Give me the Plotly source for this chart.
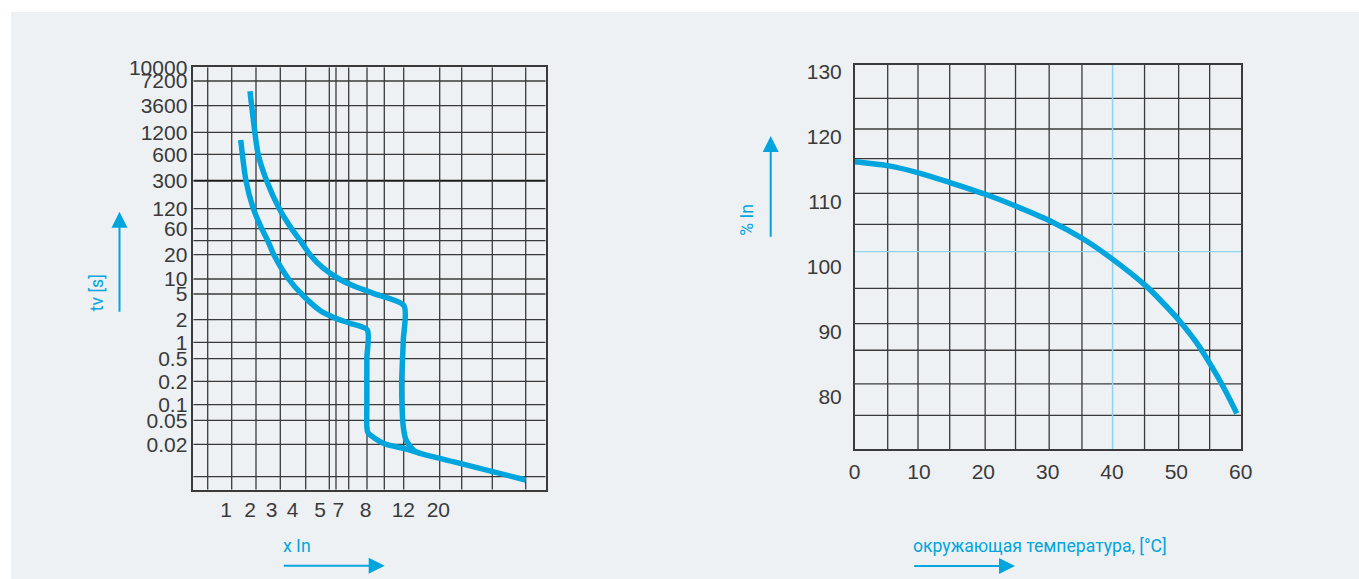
import numpy as np
import plotly.graph_objects as go

W, H = 1359, 579

# ---- Time-current characteristic (left) ----
# multiples of rated current (x In) and tripping time (s)
curve_b_xin = [1.53, 1.78, 2.13, 2.49, 2.77, 3.09, 3.78, 4.30, 5.0, 6.59, 7.41, 8.14,
               8.1, 8.1, 8.1, 8.2, 9.67, 12.6, 15.3, 25.9, 100]
curve_b_t = [940, 300, 120, 60, 41, 20, 10, 5, 2.78, 2.13, 1.79, 1.46,
             0.5, 0.1, 0.039, 0.031, 0.0208, 0.018, 0.0165, 0.0138, 0.0084]
curve_c_xin = [2.0, 2.19, 2.33, 2.73, 3.33, 3.94, 4.24, 4.61, 5.31, 7.03, 7.53, 8.68, 12.12,
               12.0, 11.8, 11.84, 12.0, 12.48, 13.9, 15.3]
curve_c_t = [5400, 1200, 600, 300, 120, 60, 41, 20, 13.6, 10, 7.33, 5.16, 3.3,
             1.07, 0.21, 0.0915, 0.039, 0.0236, 0.0177, 0.0165]

time_ticks = [10000, 7200, 3600, 1200, 600, 300, 120, 60, 20, 10, 5, 2, 1,
              0.5, 0.2, 0.1, 0.05, 0.02]
time_tick_text = ["10000", "7200", "3600", "1200", "600", "300", "120", "60", "20",
                  "10", "5", "2", "1", "0.5", "0.2", "0.1", "0.05", "0.02"]
xin_ticks = [1, 2, 3, 4, 5, 7, 8, 12, 20]
xin_tick_text = ["1", "2", "3", "4", "5", "7", "8", "12", "20"]

# ---- Derating with ambient temperature (right) ----
ambient_temp = [0, 5.1, 9.9, 14.8, 20.3, 25.0, 30.4, 35.4, 39.7, 45.4, 48.5, 50.6,
                53.2, 55.2, 57.3, 59.4]
rated_pct = [116.1, 115.5, 114.4, 112.9, 111.1, 109.3, 107.0, 104.3, 101.4, 96.9, 93.8,
             91.5, 88.2, 85.1, 81.5, 77.4]
temp_ticks = [0, 10, 20, 30, 40, 50, 60]
pct_ticks = [80, 90, 100, 110, 120, 130]

# ---------------- layout geometry (page pixels) ----------------
# nomogram rows / columns of the left chart (screen positions of scale values)
TIME_ROW_Y = [67.3, 81, 105.7, 132.3, 154.3, 180.7, 208.7, 228.7, 254.7, 279, 294,
              319.7, 342.3, 358.7, 381.3, 404.7, 420.3, 444.3]
TIME_EXTRA = {40: 240.7, 0.01: 476.7, 0.005: 489.7}
XIN_COL_X = [226, 250, 271.7, 292.7, 320, 338.3, 365.7, 403.3, 438.3]
XIN_EXTRA = {30: 461.7, 50: 492.3, 100: 525.7}

L_X0, L_X1, L_Y0, L_Y1 = 193.3, 545.7, 67.3, 489.7
L_HGRID = [81, 105.7, 132.3, 154.3, 208.7, 228.7, 240.7, 254.7, 279, 294, 319.7,
           342.3, 358.7, 381.3, 404.7, 420.3, 444.3, 476.7]
L_HBOLD = [180.7]
L_VGRID = [207.7, 231.7, 256, 280.3, 305.7, 329.3, 336, 348.7, 367, 384.3, 403.7,
           439.7, 461.7, 492.3, 525.7]

R_X0, R_X1, R_Y0, R_Y1 = 854.7, 1241.3, 65.0, 449.3
R_XRANGE = [0, 60.1]
R_YRANGE = [71.88, 130.98]
R_HGRID = [125.86, 121.14, 116.57, 111.25, 106.48, 96.64, 91.20, 87.11, 81.93, 77.11]
R_VGRID = [5.13, 9.84, 14.77, 20.28, 25.0, 30.23, 35.33, 45.06, 50.36, 55.18]
R_HBLUE, R_VBLUE = 102.27, 40.09

CYAN = "#00a5de"
GRID = "#3a3a3a"
LIGHT_BLUE = "#8fd3ee"
PANEL = "#edf1f4"
TXT = "#3a3a3a"
FONT = "Liberation Sans, Arial, sans-serif"


def fx(px):
    return px / W


def fy(py):
    return 1 - py / H


def build_scale(values, positions, extra):
    pairs = list(zip(values, positions)) + list(extra.items())
    pairs.sort(key=lambda p: p[0])
    lv = np.log10([p[0] for p in pairs])
    pos = np.array([p[1] for p in pairs])
    return lambda v: np.interp(np.log10(v), lv, pos)


time_scale = build_scale(time_ticks, TIME_ROW_Y, TIME_EXTRA)
xin_scale = build_scale(xin_ticks, XIN_COL_X, XIN_EXTRA)

fig = go.Figure()

for xs, ts in [(curve_b_xin, curve_b_t), (curve_c_xin, curve_c_t)]:
    fig.add_trace(go.Scatter(
        x=xin_scale(xs), y=time_scale(ts), mode="lines",
        line=dict(color=CYAN, width=5.5, shape="spline", smoothing=0.7),
        xaxis="x", yaxis="y", hoverinfo="skip", showlegend=False))

fig.add_trace(go.Scatter(
    x=ambient_temp, y=rated_pct, mode="lines",
    line=dict(color=CYAN, width=5.5, shape="spline", smoothing=0.8),
    xaxis="x2", yaxis="y2", hoverinfo="skip", showlegend=False))

shapes = [dict(type="rect", xref="paper", yref="paper", x0=fx(11), x1=1, y0=0, y1=fy(12),
               fillcolor=PANEL, line=dict(width=0), layer="below")]
for y in L_HGRID:
    shapes.append(dict(type="line", xref="x", yref="y", x0=L_X0, x1=L_X1, y0=y, y1=y,
                       line=dict(color=GRID, width=1.3), layer="below"))
for y in L_HBOLD:
    shapes.append(dict(type="line", xref="x", yref="y", x0=L_X0, x1=L_X1, y0=y, y1=y,
                       line=dict(color="#1a1a1a", width=2), layer="below"))
for x in L_VGRID:
    shapes.append(dict(type="line", xref="x", yref="y", x0=x, x1=x, y0=L_Y0, y1=L_Y1,
                       line=dict(color=GRID, width=1.3), layer="below"))
for y in R_HGRID:
    shapes.append(dict(type="line", xref="x2", yref="y2", x0=R_XRANGE[0], x1=R_XRANGE[1],
                       y0=y, y1=y, line=dict(color=GRID, width=1.3), layer="below"))
for x in R_VGRID:
    shapes.append(dict(type="line", xref="x2", yref="y2", x0=x, x1=x, y0=R_YRANGE[0],
                       y1=R_YRANGE[1], line=dict(color=GRID, width=1.3), layer="below"))
shapes.append(dict(type="line", xref="x2", yref="y2", x0=R_XRANGE[0], x1=R_XRANGE[1],
                   y0=R_HBLUE, y1=R_HBLUE, line=dict(color=LIGHT_BLUE, width=1.3), layer="below"))
shapes.append(dict(type="line", xref="x2", yref="y2", x0=R_VBLUE, x1=R_VBLUE, y0=R_YRANGE[0],
                   y1=R_YRANGE[1], line=dict(color=LIGHT_BLUE, width=1.5), layer="below"))

axis_common = dict(showgrid=False, zeroline=False, showline=True, mirror=True,
                   linecolor=GRID, linewidth=1.5, ticks="outside", automargin=False,
                   tickcolor="rgba(0,0,0,0)", tickfont=dict(family=FONT, size=21, color=TXT),
                   fixedrange=True)

fig.update_layout(
    width=W, height=H, margin=dict(l=0, r=0, t=0, b=0, autoexpand=False),
    paper_bgcolor="white", plot_bgcolor="rgba(0,0,0,0)",
    showlegend=False,
    xaxis=dict(axis_common, domain=[fx(L_X0), fx(L_X1)], range=[L_X0, L_X1],
               tickmode="array", tickvals=XIN_COL_X, ticktext=xin_tick_text,
               ticks="", ticklen=0),
    yaxis=dict(axis_common, domain=[fy(L_Y1), fy(L_Y0)], range=[L_Y1, L_Y0],
               tickmode="array", tickvals=[float(time_scale(t)) for t in time_ticks],
               ticktext=time_tick_text, ticks="", ticklen=0),
    xaxis2=dict(axis_common, domain=[fx(R_X0), fx(R_X1)], range=R_XRANGE,
                tickmode="array", tickvals=temp_ticks, ticklen=3, anchor="y2"),
    yaxis2=dict(axis_common, domain=[fy(R_Y1), fy(R_Y0)], range=R_YRANGE,
                tickmode="array", tickvals=pct_ticks, ticklen=7, anchor="x2"),
    shapes=shapes,
)

lab_font = dict(family="Roboto, Liberation Sans, Arial, sans-serif", size=17.6, color=CYAN)
annotations = [
    dict(text="x In", x=fx(280.5), y=fy(546), xanchor="left", yanchor="middle"),
    dict(text="окружающая температура, [°C]", x=fx(910.7), y=fy(546),
         xanchor="left", yanchor="middle"),
    dict(text="tv [s]", x=fx(96.7), y=fy(292.5), xanchor="center", yanchor="middle",
         textangle=-90),
    dict(text="% In", x=fx(746.7), y=fy(220), xanchor="center", yanchor="middle",
         textangle=-90),
]
for a in annotations:
    a.update(xref="paper", yref="paper", showarrow=False, font=lab_font)


def arrow(x0, y0, x1, y1):
    return dict(xref="paper", yref="paper", x=fx(x1), y=fy(y1), ax=x0 - x1, ay=y0 - y1,
                axref="pixel", ayref="pixel", text="", showarrow=True, arrowhead=2,
                arrowsize=1.6, arrowwidth=2, arrowcolor=CYAN, standoff=0, startstandoff=0)


annotations += [
    arrow(282.3, 565.7, 384.7, 565.7),
    arrow(912.7, 566, 1015, 566),
    arrow(119.5, 313.3, 119.5, 211.7),
    arrow(770.7, 238.3, 770.7, 136),
]
fig.update_layout(annotations=annotations)

# page body without default margin so the figure sits at the window origin
fig.write_html("out.html", post_script="document.body.style.margin='0px';")
